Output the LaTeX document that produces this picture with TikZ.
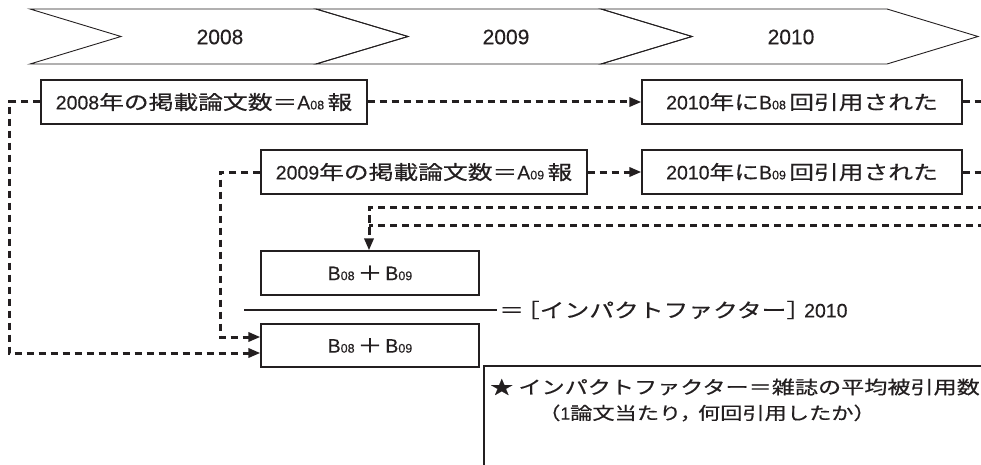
\documentclass[tikz,border=0pt]{standalone}
\usepackage{fontspec}
\setmainfont{Liberation Sans}[FakeBold=0.3]
\newfontfamily\jpfont[FakeStretch=1.27,FakeBold=0.5,Scale=1.0]{Noto Sans CJK JP}
\usetikzlibrary{arrows.meta}
\definecolor{ink}{HTML}{231F20}
\newcommand{\jtxt}[1]{{\jpfont #1}}
\newcommand{\subn}[1]{{\fontsize{12.5}{13}\selectfont #1}}
\begin{document}
\begin{tikzpicture}[x=1pt,y=-1pt,
  band/.style={draw=ink,line width=0.9pt,line join=miter},
  yearlbl/.style={font=\fontsize{21}{23}\selectfont,text=ink,inner sep=0pt},
  box/.style={draw=ink,line width=1.1pt,minimum height=44pt,inner sep=0pt,
    font=\fontsize{19.5}{21}\selectfont,text=ink},
  dl/.style={draw=ink,line width=3pt,dash pattern=on 7.5pt off 4.5pt},
  arr/.style={-{Triangle[length=12pt,width=9pt]}},
  plain/.style={draw=ink,line width=1.1pt}]
\useasboundingbox (0,0) rectangle (981,465);
\clip (0,0) rectangle (981,465);
% timeline band
\draw[band] (30,9) -- (316,9) -- (408,36.5) -- (316,64) -- (30,64) -- (121,36.5) -- cycle;
\draw[band] (316,9) -- (601,9) -- (692,36.5) -- (601,64) -- (316,64) -- (408,36.5) -- cycle;
\draw[band] (601,9) -- (887,9) -- (978,36.5) -- (887,64) -- (601,64) -- (692,36.5) -- cycle;
\node[yearlbl] (y08) at (220,37) {2008};
\node[yearlbl] (y09) at (506,37) {2009};
\node[yearlbl] (y10) at (791,37) {2010};
% boxes
\node[box,minimum width=326pt] (b1) at (204,102) {2008\jtxt{年の掲載論文数＝}A\subn{08}\,\jtxt{報}};
\node[box,minimum width=326pt] (b2) at (424,172) {2009\jtxt{年の掲載論文数＝}A\subn{09}\,\jtxt{報}};
\node[box,minimum width=320pt] (b3) at (802,102) {2010\jtxt{年に}B\subn{08}\,\jtxt{回引用された}};
\node[box,minimum width=320pt] (b4) at (802,172) {2010\jtxt{年に}B\subn{09}\,\jtxt{回引用された}};
\node[box,minimum width=218pt] (num) at (370,273) {B\subn{08}\hspace{3pt}\jtxt{＋}\hspace{3pt}B\subn{09}};
\node[box,minimum width=218pt,minimum height=43pt] (den) at (370,345.5) {B\subn{08}\hspace{3pt}\jtxt{＋}\hspace{3pt}B\subn{09}};
% fraction line and result
\coordinate (fl1) at (244,310);
\coordinate (fl2) at (497,310);
\draw[plain] (fl1) -- (fl2);
\node[anchor=west,inner sep=0pt,font=\fontsize{19.5}{21}\selectfont,text=ink] (eq) at (499,310) {\jtxt{＝\hspace{-9pt}［インパクトファクター］}\hspace{-7pt}2010};
% note box
\coordinate (nb1) at (484,366);
\coordinate (nb2) at (995,480);
\draw[plain] (nb1) rectangle (nb2);
\node[anchor=west,inner sep=0pt,font=\fontsize{18.2}{19}\selectfont,text=ink] (n1) at (490,387) {\jtxt{★ インパクトファクター＝雑誌の平均被引用数}};
\node[inner sep=0pt,font=\fontsize{17.5}{19}\selectfont,text=ink] (n2) at (707,413) {\jtxt{（}1\jtxt{論文当たり，\hspace{-4pt}何回引用したか）}};
% connector end points
\coordinate (c1) at (9,102);
\coordinate (c2) at (220,172);
\coordinate (r1) at (985,102);
\coordinate (r2) at (985,172);
\coordinate (r3) at (985,207);
\coordinate (r4) at (985,225);
\coordinate (k1) at (369,207);
\coordinate (k2) at (369,225);
\coordinate (d1) at ([yshift=-7.5pt]den.west);
\coordinate (d2) at ([yshift=8.5pt]den.west);
% connectors
\draw[dl,arr] (b1.west) -- (c1) |- (d1);
\draw[dl,arr] (b2.west) -- (c2) |- (d2);
\draw[dl,arr] (b1.east) -- (b3.west);
\draw[dl,arr] (b2.east) -- (b4.west);
\draw[dl] (b3.east) -- (r1);
\draw[dl] (b4.east) -- (r2);
\draw[dl,arr] (r3) -- (k1) -- (k1 |- num.north);
\draw[dl] (r4) -- (k2);
\end{tikzpicture}
\end{document}
